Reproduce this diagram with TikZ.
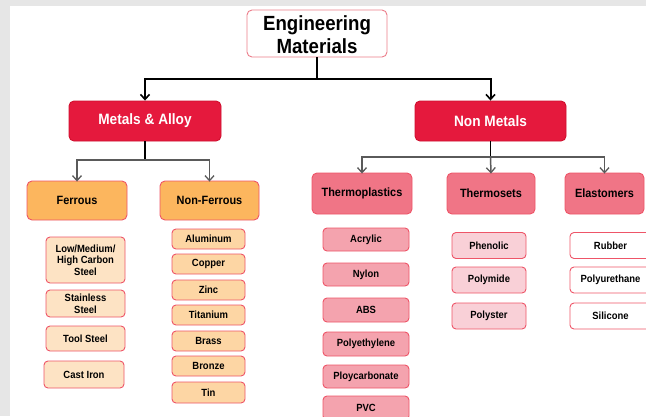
\documentclass[tikz,border=0pt]{standalone}
\usepackage{fontspec}
\setmainfont[FakeStretch=0.91]{Liberation Sans}
\usetikzlibrary{arrows.meta}
\definecolor{bgray}{HTML}{E6E6E6}
\definecolor{crimson}{HTML}{E5193D}
\definecolor{crimsonb}{HTML}{D0102F}
\definecolor{rootb}{HTML}{EC7D8A}
\definecolor{bordc}{HTML}{EE5568}
\definecolor{orangef}{HTML}{FCB65E}
\definecolor{peachlt}{HTML}{FDE3C4}
\definecolor{peach}{HTML}{FDD6A4}
\definecolor{salmon}{HTML}{F07586}
\definecolor{pinkmid}{HTML}{F4A3AE}
\definecolor{pinklt}{HTML}{F9D0D7}
\definecolor{conngray}{HTML}{5A5A5A}
\tikzset{
  box/.style={draw=bordc, line width=0.9pt, rounded corners=5pt, inner sep=0pt, align=center},
  rootbox/.style={box, fill=white, draw=rootb, font=\bfseries\fontsize{20.5}{24}\selectfont},
  catbox/.style={box, fill=crimson, draw=crimsonb, text=white, font=\bfseries\fontsize{15}{17}\selectfont},
  subbox/.style={box, font=\bfseries\fontsize{12}{14}\selectfont},
  leafbox/.style={box, rounded corners=4pt, font=\bfseries\fontsize{10.4}{11.6}\selectfont},
  topconn/.style={line width=2pt, black},
  topar/.style={topconn, -{Straight Barb[length=5pt,width=9pt,line width=1.6pt]}},
  subconn/.style={line width=1.5pt, conngray},
  subar/.style={subconn, -{Straight Barb[length=5pt,width=9pt,line width=1.3pt]}}
}
\begin{document}
\begin{tikzpicture}[x=1pt,y=-1pt]
\useasboundingbox (0,0) rectangle (646,416);
\clip (0,0) rectangle (646,416);
\fill[bgray] (0,0) rectangle (646,416);
\fill[white] (10,6) rectangle (646,416);

% root and categories
\node[rootbox, minimum width=140pt, minimum height=47pt] (root) at (317,33.5) {\raisebox{-3.5pt}[\height][\depth]{\begin{tabular}{@{}c@{}}Engineering\\[-1pt]Materials\end{tabular}}};
\node[catbox, minimum width=152pt, minimum height=40pt] (metals) at (145,121) {Metals \& Alloy};
\node[catbox, minimum width=151pt, minimum height=40pt] (nonmetals) at (490.5,121) {Non Metals};

% sub categories
\node[subbox, fill=orangef, minimum width=100pt, minimum height=39pt] (ferrous) at (77,200.5) {Ferrous};
\node[subbox, fill=orangef, minimum width=99pt, minimum height=39pt] (nonferrous) at (209.5,200.5) {Non-Ferrous};
\node[subbox, fill=salmon, minimum width=100pt, minimum height=41pt] (thermoplastics) at (362,193.5) {Thermoplastics};
\node[subbox, fill=salmon, minimum width=88pt, minimum height=41pt] (thermosets) at (491,193.5) {Thermosets};
\node[subbox, fill=salmon, minimum width=79pt, minimum height=41pt] (elastomers) at (604.5,193.5) {Elastomers};

% ferrous leaves
\node[leafbox, fill=peachlt, minimum width=79pt, minimum height=46pt] (lmh) at (85.5,260) {Low/Medium/\\High Carbon\\Steel};
\node[leafbox, fill=peachlt, minimum width=79pt, minimum height=27pt] (stainless) at (85.5,303.5) {Stainless\\Steel};
\node[leafbox, fill=peachlt, minimum width=79pt, minimum height=25pt] (tool) at (85.5,338.5) {Tool Steel};
\node[leafbox, fill=peachlt, minimum width=80pt, minimum height=27pt] (cast) at (84,374.5) {Cast Iron};

% non-ferrous leaves
\node[leafbox, fill=peach, minimum width=73pt, minimum height=20pt] (aluminum) at (208.5,239) {Aluminum};
\node[leafbox, fill=peach, minimum width=73pt, minimum height=20pt] (copper) at (208.5,264) {Copper};
\node[leafbox, fill=peach, minimum width=73pt, minimum height=20pt] (zinc) at (208.5,290) {Zinc};
\node[leafbox, fill=peach, minimum width=73pt, minimum height=20pt] (titanium) at (208.5,315) {Titanium};
\node[leafbox, fill=peach, minimum width=73pt, minimum height=20pt] (brass) at (208.5,341) {Brass};
\node[leafbox, fill=peach, minimum width=73pt, minimum height=20pt] (bronze) at (208.5,366) {Bronze};
\node[leafbox, fill=peach, minimum width=73pt, minimum height=21pt] (tin) at (208.5,392.5) {Tin};

% thermoplastic leaves
\node[leafbox, fill=pinkmid, minimum width=86pt, minimum height=23pt] (acrylic) at (366,239.5) {Acrylic};
\node[leafbox, fill=pinkmid, minimum width=86pt, minimum height=23pt] (nylon) at (366,274.5) {Nylon};
\node[leafbox, fill=pinkmid, minimum width=86pt, minimum height=24pt] (abs) at (366,310) {ABS};
\node[leafbox, fill=pinkmid, minimum width=86pt, minimum height=24pt] (polyethylene) at (366,344) {Polyethylene};
\node[leafbox, fill=pinkmid, minimum width=86pt, minimum height=23pt] (ploycarbonate) at (366,376.5) {Ploycarbonate};
\node[leafbox, fill=pinkmid, minimum width=86pt, minimum height=24pt] (pvc) at (366,408) {PVC};

% thermoset leaves
\node[leafbox, fill=pinklt, minimum width=74pt, minimum height=26pt] (phenolic) at (489,245.5) {Phenolic};
\node[leafbox, fill=pinklt, minimum width=74pt, minimum height=26pt] (polymide) at (489,280) {Polymide};
\node[leafbox, fill=pinklt, minimum width=74pt, minimum height=26pt] (polyster) at (489,316) {Polyster};

% elastomer leaves
\node[leafbox, fill=white, minimum width=81pt, minimum height=26pt] (rubber) at (610.5,245.5) {Rubber};
\node[leafbox, fill=white, minimum width=81pt, minimum height=26pt] (polyurethane) at (610.5,280) {Polyurethane};
\node[leafbox, fill=white, minimum width=81pt, minimum height=26pt] (silicone) at (610.5,316) {Silicone};

% connectors: root level
\coordinate (jroot) at (root.south |- 0,79);
\draw[topconn] (root.south) -- (jroot);
\draw[topar] (jroot) -| (metals.north);
\draw[topar] (jroot) -| (nonmetals.north);

% connectors: metals
\coordinate (jmet) at (metals.south |- 0,160);
\draw[topconn, line width=1.5pt] (metals.south) -- (jmet);
\draw[subar] (jmet) -| ([yshift=-1pt]ferrous.north);
\draw[subar] (jmet) -| ([yshift=-1pt]nonferrous.north);

% connectors: non metals
\coordinate (jnon) at (nonmetals.south |- 0,157);
\draw[topconn, line width=1.5pt] (nonmetals.south) -- (jnon);
\draw[subar] (jnon) -| ([yshift=-1pt]thermoplastics.north);
\draw[subar] (jnon) -- ([yshift=-1pt]thermosets.north);
\draw[subar] (jnon) -| ([yshift=-1pt]elastomers.north);
\end{tikzpicture}
\end{document}
